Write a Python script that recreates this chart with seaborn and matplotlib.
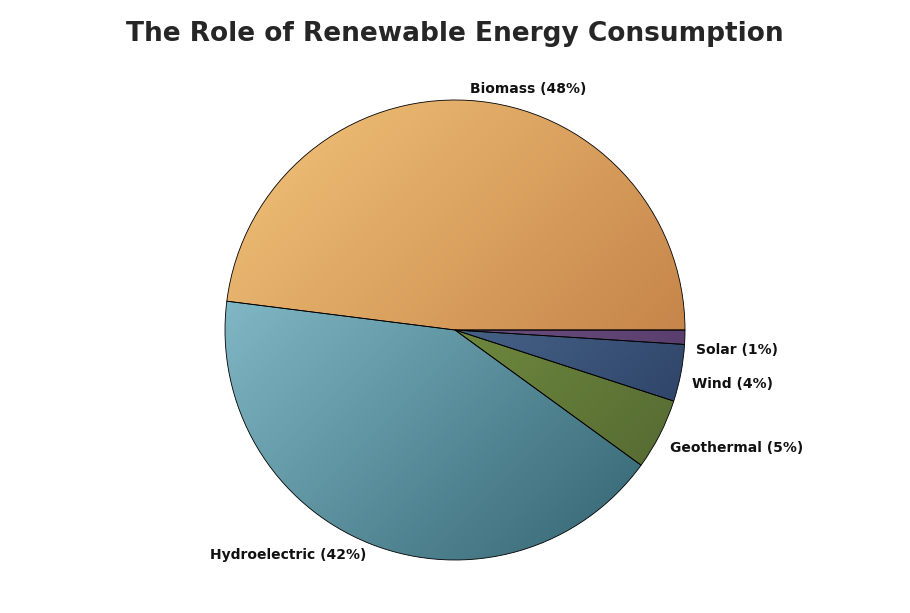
import numpy as np
import matplotlib
matplotlib.use("Agg")
import matplotlib.pyplot as plt
from matplotlib.colors import LinearSegmentedColormap
import seaborn as sns

sns.set_theme(style="white")
plt.rcParams['font.family'] = ['DejaVu Sans']

categories = ["Biomass", "Hydroelectric", "Geothermal", "Wind", "Solar"]
shares = [48, 42, 5, 4, 1]
light = ["#f2c47a", "#97d0de", "#8fae4a", "#6c8cb4", "#8c6fa0"]
dark = ["#b8703a", "#2f5f6c", "#4e6230", "#22375a", "#4a2f5e"]
label_dy = [0, 0, -0.035, -0.04, -0.055]

fig = plt.figure(figsize=(9.1, 6.13), dpi=100)
ax = fig.add_axes([225/910, 53/613, 460/910, 460/613])
wedges, texts = ax.pie(shares, labels=[f"{c} ({s}%)" for c, s in zip(categories, shares)],
                       startangle=0, counterclock=True, labeldistance=1.05,
                       wedgeprops=dict(edgecolor="black", linewidth=0.6),
                       textprops=dict(fontsize=10, fontweight="bold", color="#111111"))
ax.set_xlim(-1, 1); ax.set_ylim(-1, 1); ax.set_aspect("equal")

yy, xx = np.mgrid[1:-1:300j, -1:1:300j]
grad = ((xx - yy) + 2) / 4
for w, lc, dc in zip(wedges, light, dark):
    w.set_facecolor("none")
    cmap = LinearSegmentedColormap.from_list("g", [lc, dc])
    im = ax.imshow(grad, cmap=cmap, extent=[-1, 1, -1, 1], vmin=0, vmax=1, zorder=0)
    im.set_clip_path(w)
for t, dy in zip(texts, label_dy):
    x, y = t.get_position()
    t.set_position((x, y + dy))
ax.set_xlim(-1, 1); ax.set_ylim(-1, 1)
ax.axis("off")
fig.suptitle("The Role of Renewable Energy Consumption", fontsize=19, fontweight="bold",
             y=0.965)
fig.savefig("out.png", dpi=100, facecolor="white")
